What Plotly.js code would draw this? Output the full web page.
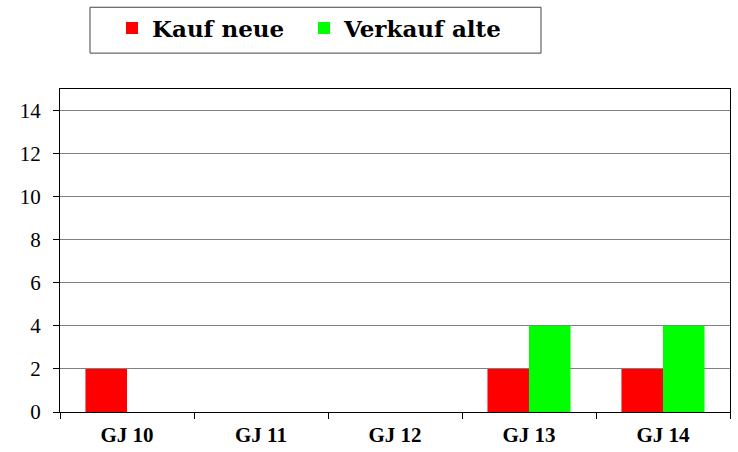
<!DOCTYPE html>
<html><head><meta charset="utf-8">
<script src="https://cdn.plot.ly/plotly-3.0.1.min.js"></script>
<style>body{margin:0;background:#fff}#c{width:738px;height:452px}</style>
</head><body><div id="c"></div>
<script>
var categories = ["GJ 10", "GJ 11", "GJ 12", "GJ 13", "GJ 14"];
var kaufNeue = [2, 0, 0, 2, 2];
var verkaufAlte = [0, 0, 0, 4, 4];
var yTicks = [0, 2, 4, 6, 8, 10, 12, 14];

var serif = "Liberation Serif, Times New Roman, Times, serif";
var traces = [
  {type: "bar", name: "Kauf neue", x: categories, y: kaufNeue, legend: "legend",
   marker: {color: "#ff0000", line: {width: 0}}},
  {type: "bar", name: "Verkauf alte", x: categories, y: verkaufAlte, legend: "legend2",
   marker: {color: "#00ff00", line: {width: 0}}}
];

var legFont = {family: "DejaVu Serif", size: 23, color: "#000", weight: "bold"};
var layout = {
  width: 738, height: 452,
  margin: {l: 60, r: 8, t: 88, b: 40},
  paper_bgcolor: "#ffffff", plot_bgcolor: "#ffffff",
  barmode: "group", bargap: 0.38, bargroupgap: 0,
  showlegend: true,
  legend: {orientation: "h", x: (112 - 60) / 670, y: 1.185, xanchor: "left", yanchor: "middle",
    borderwidth: 0, bgcolor: "rgba(0,0,0,0)", font: legFont, itemwidth: 30},
  legend2: {orientation: "h", x: (304 - 60) / 670, y: 1.185, xanchor: "left", yanchor: "middle",
    borderwidth: 0, bgcolor: "rgba(0,0,0,0)", font: legFont, itemwidth: 30},
  shapes: [{type: "rect", xref: "paper", yref: "paper",
    x0: (90 - 60) / 670, x1: (541 - 60) / 670,
    y0: 1 + (88 - 52) / 324, y1: 1 + (88 - 6) / 324,
    line: {color: "#444", width: 1}, fillcolor: "rgba(0,0,0,0)", layer: "below"}],
  xaxis: {type: "category", showgrid: false, showline: true, linecolor: "#000", linewidth: 1,
    mirror: true, ticks: "outside", ticklen: 6, tickcolor: "#000", tickson: "boundaries",
    ticklabelstandoff: 4,
    tickfont: {family: serif, size: 21, color: "#000", weight: "bold"}, fixedrange: true},
  yaxis: {range: [0, 15], tickvals: yTicks, ticktext: yTicks.map(String),
    showgrid: true, gridcolor: "#808080", gridwidth: 1, showline: true, linecolor: "#000",
    linewidth: 1, mirror: true, ticks: "outside", ticklen: 6, tickcolor: "#000",
    ticklabelstandoff: 8,
    zeroline: true, zerolinecolor: "#000", zerolinewidth: 1,
    tickfont: {family: serif, size: 21, color: "#000"}, fixedrange: true}
};
Plotly.newPlot("c", traces, layout, {displayModeBar: false, staticPlot: true});
</script></body></html>
